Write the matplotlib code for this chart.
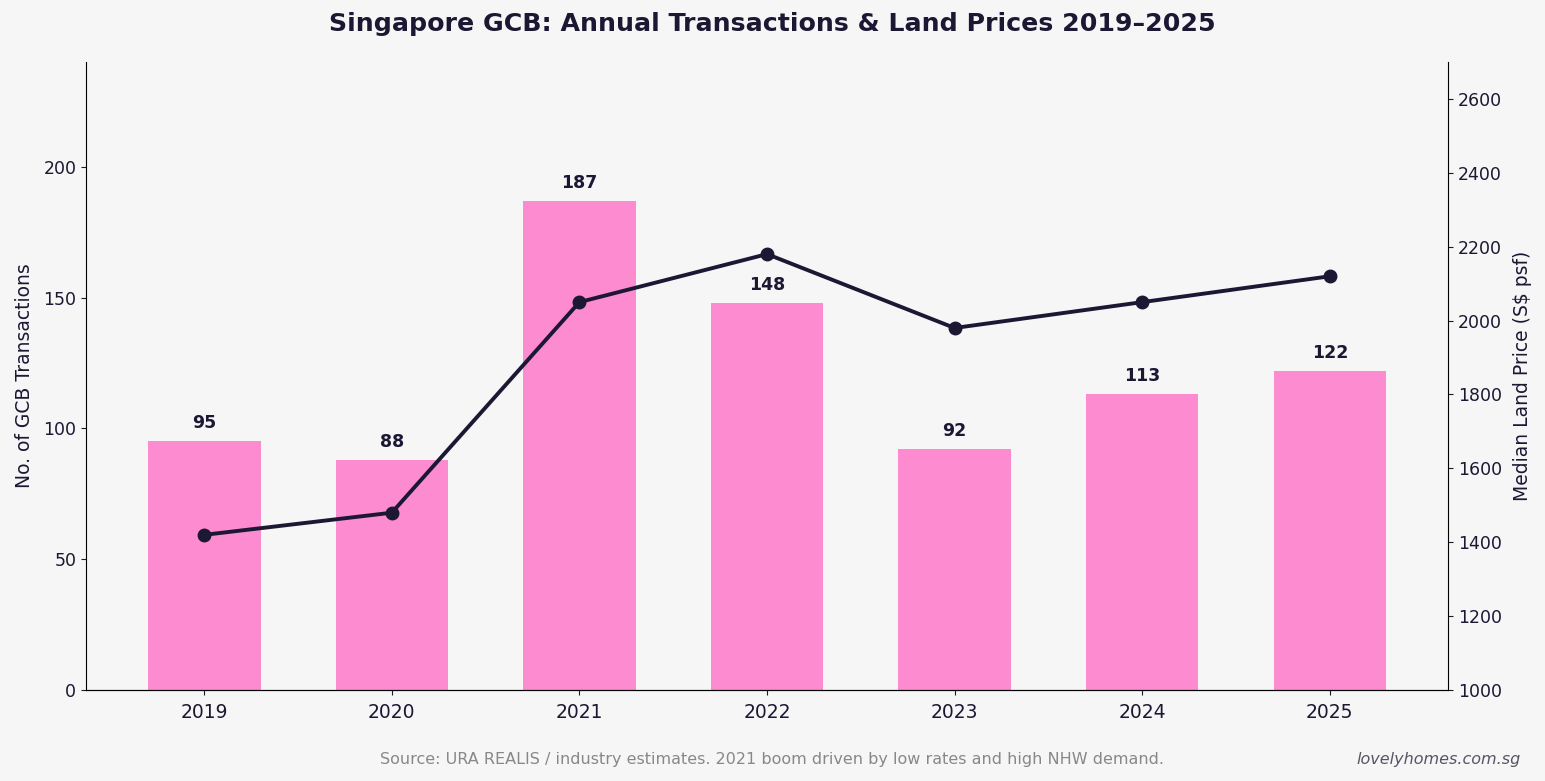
import numpy as np
import matplotlib
matplotlib.use('Agg')
import matplotlib.pyplot as plt

years = ['2019', '2020', '2021', '2022', '2023', '2024', '2025']
transactions = [95, 88, 187, 148, 92, 113, 122]
landPrice = [1420, 1480, 2050, 2180, 1980, 2050, 2120]

bgColor = '#f6f6f6'
barColor = '#fc8bd0'
darkColor = '#1c1833'


def main():
    fig = plt.figure(figsize=(15.45, 7.81), dpi=100, facecolor=bgColor)
    ax = fig.add_axes([0.0557, 0.1165, 0.8815, 0.8041])
    ax.set_facecolor(bgColor)

    x = np.arange(len(years))
    bars = ax.bar(x, transactions, width=0.6, color=barColor, zorder=2)
    for b, v in zip(bars, transactions):
        ax.text(b.get_x() + b.get_width() / 2, v + 3.5, str(v), ha='center', va='bottom',
                fontsize=12.5, fontweight='bold', color=darkColor)

    ax.set_xlim(-0.63, len(years) - 1 + 0.63)
    ax.set_ylim(0, 240)
    ax.set_yticks([0, 50, 100, 150, 200])
    ax.set_xticks(x)
    ax.set_xticklabels(years, fontsize=13.5, color=darkColor)
    ax.tick_params(axis='y', labelsize=12.5, colors=darkColor)
    ax.tick_params(axis='x', colors=darkColor, pad=6)
    ax.set_ylabel('No. of GCB Transactions', fontsize=13.5, color=darkColor, labelpad=7)
    ax.spines['top'].set_visible(False)
    ax.spines['right'].set_visible(False)

    ax2 = ax.twinx()
    ax2.plot(x, landPrice, '-o', color=darkColor, linewidth=2.8, markersize=9, zorder=3)
    ax2.set_ylim(1000, 2700)
    ax2.set_yticks(np.arange(1000, 2700, 200))
    ax2.tick_params(axis='y', labelsize=12.5, colors=darkColor)
    ax2.set_ylabel('Median Land Price (S$ psf)', fontsize=13.5, color=darkColor, labelpad=8)
    ax2.spines['top'].set_visible(False)
    ax2.spines['left'].set_visible(False)

    fig.suptitle('Singapore GCB: Annual Transactions & Land Prices 2019\u20132025',
                 x=0.5, y=0.985, fontsize=18.2, fontweight='bold', color=darkColor)
    fig.text(0.5, 0.027, 'Source: URA REALIS / industry estimates. 2021 boom driven by low rates and high NHW demand.',
             ha='center', va='center', fontsize=11.5, color='#888888')
    fig.text(0.984, 0.027, 'lovelyhomes.com.sg', ha='right', va='center', fontsize=11.5,
             style='italic', color='#555566')

    plt.savefig('out.png', dpi=100, facecolor=bgColor)
    plt.close()


if __name__ == '__main__':
    main()
